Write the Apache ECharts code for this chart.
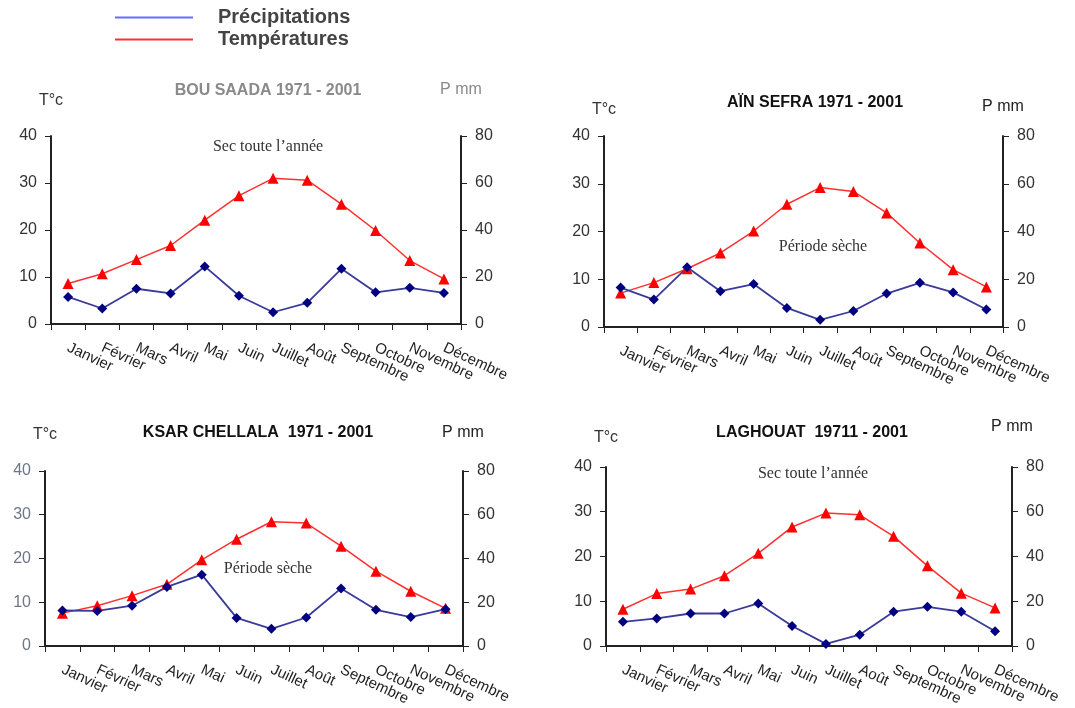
<!DOCTYPE html>
<html>
<head>
<meta charset="utf-8">
<script src="https://cdn.jsdelivr.net/npm/echarts@6/dist/echarts.min.js"></script>
<style>
  html, body { margin: 0; padding: 0; background: #fff; }
  #chart { width: 1075px; height: 708px; }
</style>
</head>
<body>
<div id="chart"></div>
<script>
// Months on the x axis
const months = ['Janvier', 'Février', 'Mars', 'Avril', 'Mai', 'Juin', 'Juillet', 'Août', 'Septembre', 'Octobre', 'Novembre', 'Décembre'];

// Axis ticks (T°c on the left, P mm on the right)
const tempTicks = [0, 10, 20, 30, 40];
const precTicks = [0, 20, 40, 60, 80];

// Station data
const bouSaadaTemp = [8.6, 10.7, 13.7, 16.7, 22.1, 27.3, 31.0, 30.6, 25.5, 19.9, 13.5, 9.6];
const bouSaadaPrec = [11.5, 6.6, 15, 13, 24.5, 12, 5, 9, 23.5, 13.5, 15.4, 13.2];
const ainSefraTemp = [7.1, 9.3, 12.2, 15.5, 20.1, 25.7, 29.2, 28.4, 23.9, 17.6, 12.0, 8.4];
const ainSefraPrec = [16.5, 11.5, 25, 15, 18, 8, 3, 6.7, 14, 18.5, 14.5, 7.3];
const ksarTemp = [7.5, 9.2, 11.5, 14.1, 19.7, 24.4, 28.4, 28.1, 22.8, 17.1, 12.5, 8.6];
const ksarPrec = [16.2, 16, 18.4, 27, 32.6, 12.8, 7.8, 13, 26.3, 16.5, 13.2, 16.8];
const laghouatTemp = [8.2, 11.7, 12.7, 15.7, 20.7, 26.6, 29.7, 29.3, 24.5, 17.9, 11.8, 8.5];
const laghouatPrec = [10.8, 12.3, 14.5, 14.5, 19, 8.9, 0.9, 5, 15.3, 17.5, 15.3, 6.6];

const stations = ['BOU SAADA 1971 - 2001', 'AÏN SEFRA 1971 - 2001', 'KSAR CHELLALA  1971 - 2001', 'LAGHOUAT  19711 - 2001'];
const notes = ['Sec toute l\u2019année', 'Période sèche', 'Période sèche', 'Sec toute l\u2019année'];

const SANS = '"Liberation Sans", Arial, sans-serif';
const SERIF = '"Liberation Serif", "Times New Roman", serif';

// panel layout
const panels = [
    { grid: { left: 51, top: 136, width: 410, height: 188 }, temp: bouSaadaTemp, prec: bouSaadaPrec,
      title: [268, 91], note: [268, 147], tGap: 27, pGap: 38, titleColor: '#8a8a8a', pColor: '#8a8a8a', tickColor: '#333' },
    { grid: { left: 604, top: 136, width: 399, height: 191 }, temp: ainSefraTemp, prec: ainSefraPrec,
      title: [815, 103], note: [823, 247], tGap: 18, pGap: 21, titleColor: '#111', pColor: '#222', tickColor: '#333' },
    { grid: { left: 45, top: 471, width: 418, height: 177 }, temp: ksarTemp, prec: ksarPrec,
      title: [258, 433], note: [268, 569], tGap: 28, pGap: 30, titleColor: '#111', pColor: '#222', tickColor: '#6f7687' },
    { grid: { left: 606, top: 467, width: 406, height: 183 }, temp: laghouatTemp, prec: laghouatPrec,
      title: [812, 433], note: [813, 474], tGap: 21, pGap: 32, titleColor: '#111', pColor: '#222', tickColor: '#333' }
];

const grids = [], xAxes = [], yAxes = [], series = [], graphics = [];

panels.forEach((p, i) => {
    grids.push(p.grid);

    xAxes.push({
        type: 'category',
        gridIndex: i,
        data: months,
        boundaryGap: true,
        axisLine: { lineStyle: { color: '#222', width: 2 } },
        axisTick: { show: true, interval: 0, length: 6, lineStyle: { color: '#222' } },
        axisLabel: { interval: 0, rotate: -25, margin: 23, color: '#222', fontSize: 15, fontFamily: SANS }
    });

    yAxes.push({
        type: 'value',
        gridIndex: i,
        position: 'left',
        min: tempTicks[0],
        max: tempTicks[tempTicks.length - 1],
        interval: tempTicks[1] - tempTicks[0],
        name: 'T°c',
        nameLocation: 'end',
        nameGap: p.tGap,
        nameTextStyle: { color: '#333', fontSize: 16, fontFamily: SANS, align: 'center' },
        axisLine: { show: true, lineStyle: { color: '#222', width: 2 } },
        axisTick: { show: true, length: 6, lineStyle: { color: '#222' } },
        axisLabel: { color: p.tickColor, fontSize: 16, fontFamily: SANS, margin: 14 },
        splitLine: { show: false }
    });

    yAxes.push({
        type: 'value',
        gridIndex: i,
        position: 'right',
        min: precTicks[0],
        max: precTicks[precTicks.length - 1],
        interval: precTicks[1] - precTicks[0],
        name: 'P mm',
        nameLocation: 'end',
        nameGap: p.pGap,
        nameTextStyle: { color: p.pColor, fontSize: 16, fontFamily: SANS, align: 'center' },
        axisLine: { show: true, lineStyle: { color: '#222', width: 2 } },
        axisTick: { show: true, length: 6, lineStyle: { color: '#222' } },
        axisLabel: { color: '#333', fontSize: 16, fontFamily: SANS, margin: 14 },
        splitLine: { show: false }
    });

    series.push({
        name: 'Températures',
        type: 'line',
        xAxisIndex: i,
        yAxisIndex: i * 2,
        data: p.temp,
        symbol: 'triangle',
        symbolSize: 11,
        lineStyle: { color: '#ff3030', width: 1.5 },
        itemStyle: { color: '#ff0000' },
        animation: false
    });

    series.push({
        name: 'Précipitations',
        type: 'line',
        xAxisIndex: i,
        yAxisIndex: i * 2 + 1,
        data: p.prec,
        symbol: 'diamond',
        symbolSize: 10,
        lineStyle: { color: '#3a3a9a', width: 1.8 },
        itemStyle: { color: '#000080' },
        animation: false
    });

    graphics.push({
        type: 'text',
        x: p.title[0],
        y: p.title[1],
        style: {
            text: stations[i],
            fill: p.titleColor,
            font: 'bold 16px ' + SANS,
            align: 'center', textAlign: 'center',
            verticalAlign: 'middle', textVerticalAlign: 'middle'
        }
    });

    graphics.push({
        type: 'text',
        x: p.note[0],
        y: p.note[1],
        style: {
            text: notes[i],
            fill: '#333',
            font: '16px ' + SERIF,
            align: 'center', textAlign: 'center',
            verticalAlign: 'middle', textVerticalAlign: 'middle'
        }
    });
});

const chart = echarts.init(document.getElementById('chart'));

const option = {
    backgroundColor: '#fff',
    animation: false,
    legend: {
        orient: 'vertical',
        left: 110,
        top: 2,
        icon: 'rect',
        itemWidth: 78,
        itemHeight: 2,
        itemGap: 1,
        data: [
            { name: 'Précipitations', itemStyle: { color: '#6a6aff' } },
            { name: 'Températures', itemStyle: { color: '#ff3030' } }
        ],
        textStyle: { color: '#444', fontSize: 20, fontWeight: 'bold', fontFamily: SANS, padding: [0, 0, 0, 20], lineHeight: 21 }
    },
    grid: grids,
    xAxis: xAxes,
    yAxis: yAxes,
    series: series,
    graphic: graphics
};

chart.setOption(option);
window.addEventListener('resize', () => chart.resize());
</script>
</body>
</html>
